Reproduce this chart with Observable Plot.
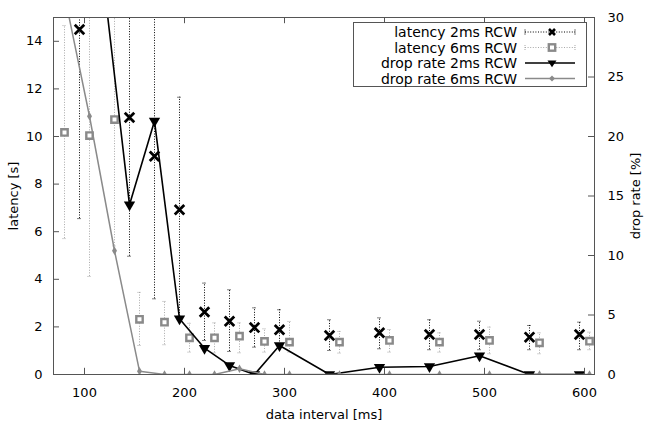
<!DOCTYPE html>
<html><head><meta charset="utf-8">
<script src="https://cdn.jsdelivr.net/npm/d3@7"></script>
<script src="https://cdn.jsdelivr.net/npm/@observablehq/plot@0.6"></script>
<style>
body{margin:0;background:#fff;}
#wrap{position:relative;width:647px;height:423px;}
svg{font-family:"DejaVu Sans";}
</style></head><body><div id="wrap"></div>
<script>
// data interval [ms]
const intervals = [75, 100, 125, 150, 175, 200, 225, 250, 275, 300, 350, 400, 450, 500, 550, 600];
// latency [s], 2ms RCW (mean, low, high)
const lat2   = [null, 14.5, null, 10.8, 9.17, 6.92, 2.63, 2.24, 1.97, 1.88, 1.64, 1.75, 1.68, 1.68, 1.57, 1.68];
const lat2Lo = [null, 6.55, null, 4.97, 3.18, 2.45, 1.43, 0.97, 1.15, 1.15, 1.01, 1.08, 1.04, 1.04, 1.04, 1.04];
const lat2Hi = [null, 20.0, null, 20.0, 20.0, 11.65, 3.84, 3.56, 2.80, 2.72, 2.30, 2.38, 2.30, 2.24, 2.06, 2.20];
// latency [s], 6ms RCW
const lat6   = [10.17, 10.04, 10.71, 2.32, 2.20, 1.54, 1.54, 1.61, 1.39, 1.36, 1.36, 1.43, 1.36, 1.43, 1.33, 1.40];
const lat6Lo = [5.71, 4.12, 5.40, 1.22, 1.25, 0.94, 0.91, 0.91, 0.94, 0.94, 0.90, 0.94, 0.94, 0.87, 0.87, 1.04];
const lat6Hi = [14.66, 20.0, 20.0, 3.45, 3.07, 2.15, 2.17, 2.17, 1.92, 2.23, 1.81, 1.89, 1.75, 1.99, 1.75, 1.78];
// drop rate [%]
const drop2 = [null, null, 32.4, 14.26, 21.3, 4.68, 2.21, 0.76, 0, 2.44, 0, 0.61, 0.67, 1.57, 0, 0];
const drop6 = [31.9, 21.7, 10.4, 0.28, 0, 0, 0, 0.48, 0, 0, 0, 0, 0, 0, 0, 0];

const xTicks = [100, 200, 300, 400, 500, 600];
const yTicks = [0, 2, 4, 6, 8, 10, 12, 14];
const y2Ticks = [0, 5, 10, 15, 20, 25, 30];
const seriesNames = ["latency 2ms RCW", "latency 6ms RCW", "drop rate 2ms RCW", "drop rate 6ms RCW"];

const rows = intervals.map((x, i) => ({x, lat2: lat2[i], lat2Lo: lat2Lo[i], lat2Hi: lat2Hi[i],
  lat6: lat6[i], lat6Lo: lat6Lo[i], lat6Hi: lat6Hi[i], drop2: drop2[i], drop6: drop6[i]}));
const r2 = rows.filter(d => d.lat2 != null);
const d2 = rows.filter(d => d.drop2 != null);

const BLACK = "#000", GRAY = "#8a8a8a", LGRAY = "#a8a8a8", AX = "#555";
const XMIN = 69, XMAX = 610;

function errMarks(data, key, dx, color) {
  return [
    Plot.ruleX(data, {x: "x", y1: key + "Lo", y2: key + "Hi", dx, stroke: color, strokeDasharray: "1,1.6", strokeWidth: 1, clip: true}),
    Plot.link(data, {x1: d => d.x - 2, x2: d => d.x + 2, y1: key + "Lo", y2: key + "Lo", dx, stroke: color, strokeDasharray: "1,1", clip: true}),
    Plot.link(data, {x1: d => d.x - 2, x2: d => d.x + 2, y1: key + "Hi", y2: key + "Hi", dx, stroke: color, strokeDasharray: "1,1", clip: true})
  ];
}

const chart = Plot.plot({
  width: 647, height: 423,
  marginLeft: 53, marginRight: 53, marginTop: 17, marginBottom: 49,
  style: {fontFamily: "DejaVu Sans", fontSize: "13px", background: "white", color: "black"},
  x: {domain: [XMIN, XMAX]},
  y: {domain: [0, 15]},
  marks: [
    ...errMarks(r2, "lat2", -5, BLACK),
    Plot.dot(r2, {x: "x", y: "lat2", dx: -5, symbol: "times", r: 4.4, stroke: BLACK, strokeWidth: 2.8, clip: true}),
    ...errMarks(rows, "lat6", 5, LGRAY),
    Plot.dot(rows, {x: "x", y: "lat6", dx: 5, symbol: "square", r: 3.6, stroke: GRAY, fill: "white", strokeWidth: 2.4, clip: true}),
    Plot.line(d2, {x: "x", y: d => d.drop2 / 2, dx: -5, stroke: BLACK, strokeWidth: 1.6, clip: true}),
    Plot.dot(d2, {x: "x", y: d => d.drop2 / 2, dx: -5, symbol: "triangle", rotate: 180, r: 4.2, fill: BLACK, clip: true}),
    Plot.line(rows, {x: "x", y: d => d.drop6 / 2, dx: 5, stroke: GRAY, strokeWidth: 1.5, clip: true}),
    Plot.dot(rows, {x: "x", y: d => d.drop6 / 2, dx: 5, symbol: "diamond", r: 2.6, fill: GRAY, clip: true}),
    Plot.frame({stroke: AX}),
    Plot.ruleX(xTicks, {y1: 0, y2: 0.26, stroke: AX}),
    Plot.ruleX(xTicks, {y1: 15, y2: 14.74, stroke: AX}),
    Plot.ruleY(yTicks, {x1: XMIN, x2: XMIN + 6, stroke: AX}),
    Plot.ruleY(y2Ticks, {y: d => d / 2, x1: XMAX - 6, x2: XMAX, stroke: AX}),
    Plot.axisX({ticks: xTicks, tickSize: 0, tickPadding: 13, label: "data interval [ms]", labelAnchor: "center", labelOffset: 44, labelArrow: false}),
    Plot.axisY({ticks: yTicks, tickSize: 0, tickPadding: 11, label: "latency [s]", labelAnchor: "center", labelOffset: 45, labelArrow: false}),
    Plot.axisY({anchor: "right", ticks: y2Ticks.map(v => v / 2), tickFormat: v => String(v * 2), tickSize: 0, tickPadding: 13, label: "drop rate [%]", labelAnchor: "center", labelOffset: 45, labelArrow: false})
  ]
});
const wrap = document.getElementById("wrap");
wrap.appendChild(chart);

// legend box inside plot area (top right)
const ns = "http://www.w3.org/2000/svg";
const lg = document.createElementNS(ns, "svg");
lg.setAttribute("width", 234); lg.setAttribute("height", 66);
lg.style.cssText = "position:absolute;left:353px;top:22px;font-family:'DejaVu Sans';font-size:14px;";
function el(tag, attrs, parent) { const e = document.createElementNS(ns, tag); for (const k in attrs) e.setAttribute(k, attrs[k]); (parent || lg).appendChild(e); return e; }
el("rect", {x: 0.5, y: 0.5, width: 233, height: 64, fill: "white", stroke: AX});
const rowY = [10, 25.5, 41, 56.5];
const sx1 = 172, sx2 = 222, sxm = 199;
seriesNames.forEach((name, i) => {
  const y = rowY[i];
  const t = el("text", {x: 164, y: y, "text-anchor": "end", "dominant-baseline": "central", fill: "black"});
  t.textContent = name;
  if (i < 2) {
    const c = i === 0 ? BLACK : LGRAY;
    el("line", {x1: sx1, x2: sx2, y1: y, y2: y, stroke: c, "stroke-dasharray": "1,1.6"});
    el("line", {x1: sx1, x2: sx1, y1: y - 2.5, y2: y + 2.5, stroke: c, "stroke-dasharray": "1,1"});
    el("line", {x1: sx2, x2: sx2, y1: y - 2.5, y2: y + 2.5, stroke: c, "stroke-dasharray": "1,1"});
    if (i === 0) {
      el("path", {d: `M${sxm-3},${y-3}L${sxm+3},${y+3}M${sxm-3},${y+3}L${sxm+3},${y-3}`, stroke: BLACK, "stroke-width": 2.6});
    } else {
      el("rect", {x: sxm - 3.2, y: y - 3.2, width: 6.4, height: 6.4, fill: "white", stroke: GRAY, "stroke-width": 2.4});
    }
  } else {
    const c = i === 2 ? BLACK : GRAY;
    el("line", {x1: sx1, x2: sx2, y1: y, y2: y, stroke: c, "stroke-width": i === 2 ? 1.6 : 1.5});
    if (i === 2) el("path", {d: `M${sxm-4.5},${y-2.6}L${sxm+4.5},${y-2.6}L${sxm},${y+4.2}Z`, fill: BLACK});
    else el("path", {d: `M${sxm},${y-3}L${sxm+3},${y}L${sxm},${y+3}L${sxm-3},${y}Z`, fill: GRAY});
  }
});
wrap.appendChild(lg);
</script></body></html>
